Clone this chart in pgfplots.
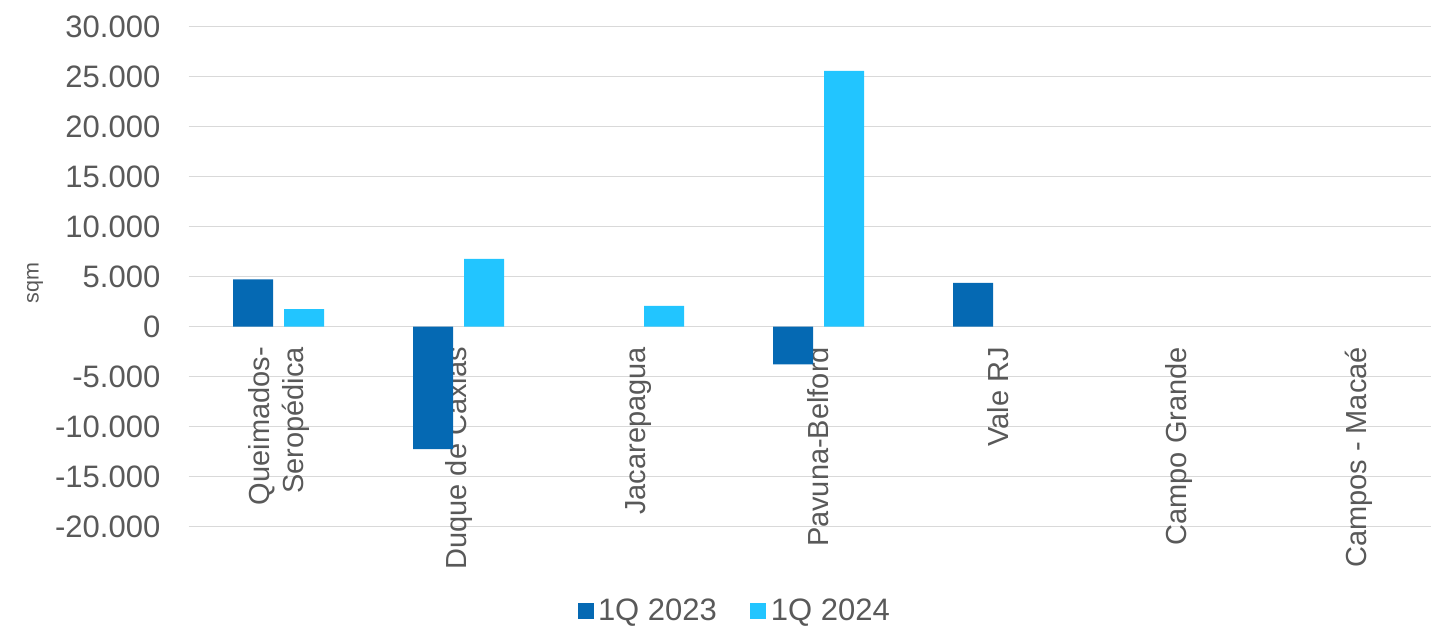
\documentclass[border=0pt]{standalone}
\usepackage{pgfplots}
\pgfplotsset{compat=1.18}
\usepackage{fontspec}
\setmainfont{Liberation Sans}
\definecolor{darkb}{HTML}{0569B3}
\definecolor{lightb}{HTML}{22C5FF}
\definecolor{txt}{HTML}{595959}
\definecolor{grd}{HTML}{D9D9D9}
\begin{document}
\begin{tikzpicture}
\begin{axis}[
  at={(0,0)}, anchor=south west,
  width=621.15pt, height=250pt, scale only axis,
  ybar=5.5pt, bar width=20pt,
  xmin=-0.5, xmax=6.4028,
  ymin=-20000, ymax=30000,
  scaled y ticks=false,
  axis x line*=middle, axis y line*=left,
  x axis line style={draw=none}, y axis line style={draw=none},
  hide obscured x ticks=false, hide obscured y ticks=false,
  major tick length=0pt,
  xtick={0,1,2,3,4,5,6},
  xticklabels={{Queimados-\\Seropédica},Duque de Caxias,Jacarepagua,Pavuna-Belford,Vale RJ,Campo Grande,Campos - Macaé},
  xticklabel style={rotate=90, anchor=east, inner sep=0pt, align=right, font=\fontsize{14.5pt}{17pt}\selectfont, text=txt, xshift=-10pt},
  ytick={-20000,-15000,...,30000},
  yticklabels={-20.000,-15.000,-10.000,-5.000,0,5.000,10.000,15.000,20.000,25.000,30.000},
  yticklabel style={anchor=east, inner sep=0pt, xshift=-14pt, font=\fontsize{15.5pt}{18pt}\selectfont, text=txt},
  ymajorgrids, grid style={grd, line width=0.75pt},
  ylabel={sqm},
  ylabel style={at={(axis description cs:-0.1237,0.4874)}, anchor=center, font=\fontsize{10.75pt}{13pt}\selectfont, text=txt},
  legend columns=2,
  legend style={at={(0.4405,-0.1686)}, anchor=center, draw=none, fill=none, inner sep=0pt,
    font=\fontsize{15.5pt}{18pt}\selectfont, text=txt,
    /tikz/every even column/.append style={column sep=14.5pt},
    nodes={inner xsep=2.25pt, inner ysep=0pt}},
  legend image code/.code={\path[#1,draw=none] (0pt,-4pt) rectangle (8pt,4pt);},
]
\addplot[fill=darkb, draw=none] coordinates {(0,4740) (1,-12250) (3,-3770) (4,4370)};
\addplot[fill=lightb, draw=none] coordinates {(0,1750) (1,6770) (2,2070) (3,25570)};
\legend{1Q 2023,1Q 2024}
\end{axis}
\pgfresetboundingbox
\useasboundingbox (-94.35pt,-50.15pt) rectangle (621.15pt,263.35pt);
\end{tikzpicture}
\end{document}
